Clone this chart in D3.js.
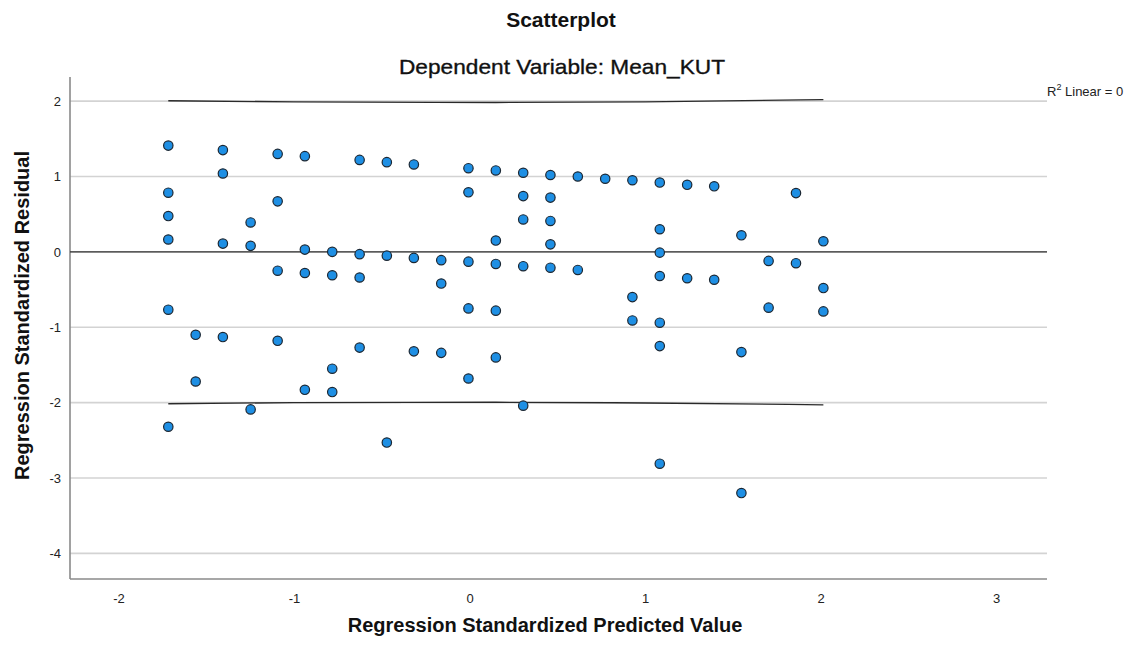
<!DOCTYPE html>
<html>
<head>
<meta charset="utf-8">
<script src="https://cdn.jsdelivr.net/npm/d3@7"></script>
<style>
  html, body { margin: 0; padding: 0; background: #fff; }
  svg { display: block; font-family: "Liberation Sans", Arial, sans-serif; }
</style>
</head>
<body>
<svg id="chart" width="1143" height="648"></svg>
<script>
// ---- Data ----
const predicted = [
  -1.716,-1.716,-1.716,-1.716,-1.716,-1.716,
  -1.560,-1.560,
  -1.405,-1.405,-1.405,-1.405,
  -1.247,-1.247,-1.247,
  -1.093,-1.093,-1.093,-1.093,
  -0.938,-0.938,-0.938,-0.938,
  -0.782,-0.782,-0.782,-0.782,
  -0.626,-0.626,-0.626,-0.626,
  -0.471,-0.471,-0.471,
  -0.317,-0.317,-0.317,
  -0.161,-0.161,-0.161,
  -0.006,-0.006,-0.006,-0.006,-0.006,
  0.150,0.150,0.150,0.150,0.150,
  0.306,0.306,0.306,0.306,0.306,
  0.461,0.461,0.461,0.461,0.461,
  0.617,0.617,
  0.773,
  0.928,0.928,0.928,
  1.084,1.084,1.084,1.084,1.084,1.084,1.084,
  1.240,1.240,
  1.394,1.394,
  1.549,1.549,1.549,
  1.704,1.704,
  1.860,1.860,
  2.016,2.016,2.016
];
const residual = [
  1.41,0.785,0.475,0.164,-0.767,-2.32,
  -1.10,-1.72,
  1.35,1.04,0.11,-1.13,
  0.39,0.08,-2.09,
  1.30,0.67,-0.25,-1.18,
  1.27,0.03,-0.28,-1.83,
  0.00,-0.31,-1.55,-1.86,
  1.22,-0.03,-0.34,-1.27,
  1.19,-0.05,-2.53,
  1.16,-0.08,-1.32,
  -0.11,-0.42,-1.34,
  1.11,0.79,-0.13,-0.75,-1.68,
  1.08,0.15,-0.16,-0.78,-1.40,
  1.05,0.74,0.43,-0.19,-2.04,
  1.02,0.72,0.41,0.10,-0.21,
  1.00,-0.24,
  0.97,
  0.95,-0.60,-0.91,
  0.92,0.30,-0.01,-0.32,-0.94,-1.25,-2.81,
  0.89,-0.35,
  0.87,-0.37,
  0.22,-1.33,-3.20,
  -0.12,-0.74,
  0.78,-0.15,
  0.14,-0.48,-0.79
];
// Individual prediction interval (curved lines near +/-2)
const bandX     = [-1.716, -1.0, 0.15, 1.0, 2.016];
const bandUpper = [2.005, 1.99, 1.982, 1.99, 2.02];
const bandLower = [-2.015, -2.0, -1.995, -2.005, -2.03];
// Fit line (R^2 Linear = 0)
const fitX = [-2.276, 3.29];
const fitY = [0, 0];
const xTicks = [-2, -1, 0, 1, 2, 3];
const yTicks = [2, 1, 0, -1, -2, -3, -4];

// ---- Layout ----
const mLeft = 70, mRight = 1047, mTop = 77, mBottom = 579;
const svg = d3.select("#chart");
const x = d3.scaleLinear().domain([-2.276, 3.29]).range([mLeft, mRight]);
const y = d3.scaleLinear().domain([-4.34, 2.32]).range([mBottom, mTop]);

// gridlines
svg.append("g")
  .selectAll("line").data(yTicks).join("line")
  .attr("x1", mLeft).attr("x2", mRight)
  .attr("y1", d => y(d)).attr("y2", d => y(d))
  .attr("stroke", "#d3d3d3").attr("stroke-width", 1.6);

// axes
const fmt = d => String(d);
const xAxis = d3.axisBottom(x).tickValues(xTicks).tickSize(0).tickPadding(15).tickFormat(fmt);
const yAxis = d3.axisLeft(y).tickValues(yTicks).tickSize(0).tickPadding(9).tickFormat(fmt);
const gx = svg.append("g").attr("transform", `translate(0,${mBottom})`).call(xAxis);
const gy = svg.append("g").attr("transform", `translate(${mLeft},0)`).call(yAxis);
[gx, gy].forEach(g => {
  g.select(".domain").remove();
  g.selectAll("text").attr("font-size", 13).attr("fill", "#222")
    .attr("font-family", "'Liberation Sans', Arial, sans-serif");
});
svg.append("line").attr("x1", mLeft).attr("x2", mLeft).attr("y1", mTop).attr("y2", mBottom)
  .attr("stroke", "#8a8a8a").attr("stroke-width", 1.6);
svg.append("line").attr("x1", mLeft).attr("x2", mRight).attr("y1", mBottom).attr("y2", mBottom)
  .attr("stroke", "#8a8a8a").attr("stroke-width", 1.6);

// fit line
const line = d3.line().x(d => x(d[0])).y(d => y(d[1]));
svg.append("path").datum(d3.zip(fitX, fitY)).attr("d", line)
  .attr("fill", "none").attr("stroke", "#333").attr("stroke-width", 1.3);

// interval curves
const curve = d3.line().x(d => x(d[0])).y(d => y(d[1])).curve(d3.curveMonotoneX);
[bandUpper, bandLower].forEach(b => {
  svg.append("path").datum(d3.zip(bandX, b)).attr("d", curve)
    .attr("fill", "none").attr("stroke", "#2a2a2a").attr("stroke-width", 1.3);
});

// points
svg.append("g").selectAll("circle").data(d3.zip(predicted, residual)).join("circle")
  .attr("cx", d => x(d[0])).attr("cy", d => y(d[1])).attr("r", 4.7)
  .attr("fill", "#1e8fe4").attr("stroke", "#1b2733").attr("stroke-width", 1.2);

// R^2 label
const r2 = svg.append("text").attr("x", 1047).attr("y", 96)
  .attr("font-size", 13).attr("fill", "#222");
r2.append("tspan").text("R");
r2.append("tspan").attr("dy", -6).attr("font-size", 9).text("2");
r2.append("tspan").attr("dy", 6).text(" Linear = 0");

// titles
svg.append("text").attr("x", 561).attr("y", 27).attr("text-anchor", "middle")
  .attr("font-size", 21).attr("font-weight", "bold").attr("fill", "#111").text("Scatterplot");
svg.append("text").attr("x", 562).attr("y", 74).attr("text-anchor", "middle")
  .attr("font-size", 21).attr("fill", "#111")
  .attr("textLength", 326).attr("lengthAdjust", "spacingAndGlyphs")
  .style("stroke", "#111").style("stroke-width", 0.35)
  .text("Dependent Variable: Mean_KUT");
svg.append("text").attr("x", 545).attr("y", 632).attr("text-anchor", "middle")
  .attr("font-size", 20).attr("font-weight", "bold").attr("fill", "#111")
  .text("Regression Standardized Predicted Value");
svg.append("text").attr("transform", "translate(29,315.5) rotate(-90)").attr("text-anchor", "middle")
  .attr("font-size", 20).attr("font-weight", "bold").attr("fill", "#111")
  .text("Regression Standardized Residual");
</script>
</body>
</html>
